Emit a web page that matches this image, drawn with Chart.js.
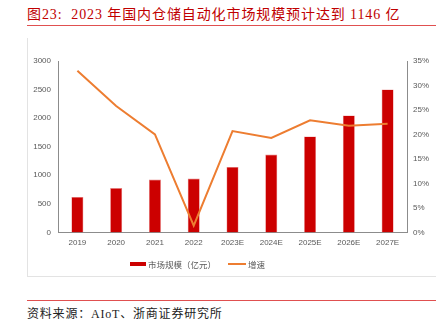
<!DOCTYPE html>
<html>
<head>
<meta charset="utf-8">
<script src="https://cdn.jsdelivr.net/npm/chart.js@4/dist/chart.umd.min.js"></script>
<style>
  body { margin: 0; background: #fff; width: 446px; height: 328px; position: relative; overflow: hidden; }
  .title { position: absolute; left: 27px; top: 3px; font: 14px "Liberation Serif", "Noto Sans CJK SC", serif; color: #c00000; white-space: nowrap; letter-spacing: 0.9px; }
  .rule { position: absolute; left: 27px; width: 409px; height: 1px; background: #e05050; }
  .box { position: absolute; left: 27px; top: 38px; width: 408px; height: 238px; border-left: 1px solid #e3e3e3; border-bottom: 1px solid #e3e3e3; }
  .source { position: absolute; left: 27px; top: 304px; font: 12px "Liberation Serif", "Noto Sans CJK SC", serif; color: #222; white-space: nowrap; letter-spacing: 0.8px; }
  .legend { position: absolute; top: 256px; left: 130px; font: 8.5px "Noto Sans CJK SC", sans-serif; color: #595959; white-space: nowrap; line-height: 12px; }
  .legend span { display: inline-block; vertical-align: middle; }
  .legend .sw-bar { width: 16px; height: 4px; background: #cc0000; margin-right: 2px; }
  .legend .sw-line { width: 18px; height: 2px; background: #ed7d31; margin-left: 12px; margin-right: 2px; }
</style>
</head>
<body>
<div class="title">图23:&nbsp;&nbsp;2023 年国内仓储自动化市场规模预计达到 1146 亿</div>
<div class="rule" style="top:25px"></div>
<div class="box"><canvas id="marketChart" width="408" height="238"></canvas></div>
<div class="legend"><span class="sw-bar"></span><span id="lg0"></span><span class="sw-line"></span><span id="lg1"></span></div>
<div class="rule" style="top:300px"></div>
<div class="source">资料来源：AIoT、浙商证券研究所</div>
<script>
const years = ['2019', '2020', '2021', '2022', '2023E', '2024E', '2025E', '2026E', '2027E'];
const marketSize = [620, 775, 925, 942, 1146, 1363, 1679, 2047, 2503];
const growthRate = [33.0, 25.8, 20.0, 1.4, 20.7, 19.3, 22.9, 21.8, 22.2];
const leftTicks = [0, 500, 1000, 1500, 2000, 2500, 3000];
const rightTicks = [0, 5, 10, 15, 20, 25, 30, 35];
const seriesNames = ['市场规模（亿元）', '增速'];

const tickFont = { family: 'Liberation Sans, Noto Sans CJK SC, sans-serif', size: 8 };
const axisGray = '#8c8c8c';

document.getElementById('lg0').textContent = seriesNames[0];
document.getElementById('lg1').textContent = seriesNames[1];

const ctx = document.getElementById('marketChart').getContext('2d');
const marketChart = new Chart(ctx, {
  data: {
    labels: years,
    datasets: [{
      type: 'line',
      label: seriesNames[1],
      data: growthRate,
      yAxisID: 'y1',
      borderColor: '#ed7d31',
      backgroundColor: '#ed7d31',
      borderWidth: 2,
      pointRadius: 0,
      tension: 0,
      order: 0
    }, {
      type: 'bar',
      label: seriesNames[0],
      data: marketSize,
      yAxisID: 'y',
      backgroundColor: '#cc0000',
      borderColor: '#e88080',
      borderWidth: 0.6,
      barPercentage: 0.31,
      categoryPercentage: 1,
      order: 1
    }]
  },
  options: {
    responsive: false,
    animation: false,
    layout: { padding: { top: 23, left: 0, right: 0, bottom: 25 } },
    scales: {
      x: {
        grid: { display: false, drawTicks: true, offset: true, color: axisGray, tickLength: 3 },
        border: { color: axisGray },
        ticks: { color: '#595959', font: tickFont, padding: 3, maxRotation: 0 }
      },
      y: {
        position: 'left',
        min: 0, max: 3000,
        afterBuildTicks: axis => { axis.ticks = leftTicks.map(v => ({ value: v })); },
        afterFit: axis => { axis.width = 30; },
        grid: { display: false, drawTicks: true, tickLength: 3, color: axisGray },
        border: { color: axisGray },
        ticks: { color: '#595959', font: tickFont, padding: 4, callback: v => String(v) }
      },
      y1: {
        position: 'right',
        min: 0, max: 35,
        afterBuildTicks: axis => { axis.ticks = rightTicks.map(v => ({ value: v })); },
        afterFit: axis => { axis.width = 29; },
        grid: { display: false, drawTicks: true, tickLength: 3, color: axisGray },
        border: { color: axisGray },
        ticks: { color: '#595959', font: tickFont, padding: 3, callback: v => v + '%' }
      }
    },
    plugins: {
      legend: { display: false },
      tooltip: { enabled: false }
    }
  }
});
</script>
</body>
</html>
